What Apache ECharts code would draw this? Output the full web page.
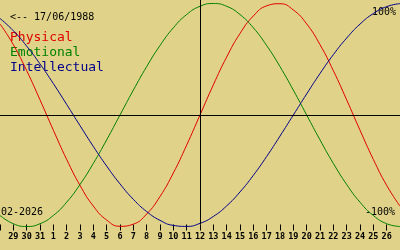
<!DOCTYPE html>
<html>
<head>
<meta charset="utf-8">
<script src="https://cdn.jsdelivr.net/npm/echarts@6/dist/echarts.min.js"></script>
<style>
  html, body { margin: 0; padding: 0; background: #e0d288; }
  #chart { width: 400px; height: 250px; }
</style>
</head>
<body>
<div id="chart"></div>
<script>
// Days shown (Jan 28 .. Feb 27, 2026); outermost ones sit at the plot edges
const days = ['28','29','30','31','1','2','3','4','5','6','7','8','9','10','11','12','13','14','15','16','17','18','19','20','21','22','23','24','25','26','27'];
const todayIndex = 15; // '12'
const physical = [0.817,0.631,0.398,0.136,-0.136,-0.398,-0.631,-0.817,-0.942,-0.998,-0.979,-0.888,-0.731,-0.520,-0.270,0,0.270,0.520,0.731,0.888,0.979,0.998,0.942,0.817,0.631,0.398,0.136,-0.136,-0.398,-0.631,-0.817];
const emotional = [-0.901,-0.975,-1,-0.975,-0.901,-0.782,-0.623,-0.434,-0.223,0,0.223,0.434,0.623,0.782,0.901,0.975,1,0.975,0.901,0.782,0.623,0.434,0.223,0,-0.223,-0.434,-0.623,-0.782,-0.901,-0.975,-1];
const intellectual = [0.866,0.756,0.618,0.458,0.282,0.095,-0.095,-0.282,-0.458,-0.618,-0.756,-0.866,-0.945,-0.990,-0.999,-0.972,-0.910,-0.815,-0.690,-0.541,-0.372,-0.189,0,0.189,0.372,0.541,0.690,0.815,0.910,0.972,0.999];
const birthLabel = '<-- 17/06/1988';
const monthLabel = '02-2026';
const topLabel = '100%';
const bottomLabel = '-100%';

const mono = 'DejaVu Sans Mono';
const RED = '#e00000', GREEN = '#008000', BLUE = '#00008c';

const chart = echarts.init(document.getElementById('chart'), null, {renderer: 'canvas'});
const edgeSkip = (i) => i > 0 && i < days.length - 1;

chart.setOption({
  animation: false,
  backgroundColor: '#e0d288',
  grid: { left: 0, right: 0, top: 0, bottom: 25.5 },
  xAxis: {
    type: 'category',
    data: days,
    boundaryGap: false,
    axisLine: { show: true, onZero: false, lineStyle: { color: 'rgba(0,0,0,0)' } },
    axisTick: { show: true, length: 6, interval: 0, lineStyle: { color: '#000', width: 1 } },
    axisLabel: { interval: edgeSkip, margin: 8, fontFamily: mono, fontSize: 8.5, fontWeight: 'bold', color: '#000' },
    splitLine: { show: false }
  },
  yAxis: {
    type: 'value',
    min: -0.982, max: 1.0314,
    show: false,
    splitLine: { show: false }
  },
  series: [
    { name: 'Physical', type: 'line', data: physical, smooth: true, showSymbol: false, clip: false,
      lineStyle: { color: RED, width: 1 },
      markLine: { silent: true, symbol: 'none', label: { show: false },
        lineStyle: { color: '#000', width: 1, type: 'solid' },
        data: [{ yAxis: 0 }, { xAxis: todayIndex }] } },
    { name: 'Emotional', type: 'line', data: emotional, smooth: true, showSymbol: false, clip: false,
      lineStyle: { color: GREEN, width: 1 } },
    { name: 'Intellectual', type: 'line', data: intellectual, smooth: true, showSymbol: false, clip: false,
      lineStyle: { color: BLUE, width: 1 } }
  ],
  graphic: [
    { type: 'text', left: 10, top: 12, style: { text: birthLabel, font: '10px "DejaVu Sans Mono"', fill: '#000' } },
    { type: 'text', left: 10, top: 31, style: { text: 'Physical', font: '13px "DejaVu Sans Mono"', fill: RED } },
    { type: 'text', left: 10, top: 46, style: { text: 'Emotional', font: '13px "DejaVu Sans Mono"', fill: GREEN } },
    { type: 'text', left: 10, top: 61, style: { text: 'Intellectual', font: '13px "DejaVu Sans Mono"', fill: BLUE } },
    { type: 'text', left: 1, top: 207, style: { text: monthLabel, font: '10px "DejaVu Sans Mono"', fill: '#000' } },
    { type: 'text', right: 4, top: 7, style: { text: topLabel, font: '10px "DejaVu Sans Mono"', fill: '#000' } },
    { type: 'text', right: 5, top: 207, style: { text: bottomLabel, font: '10px "DejaVu Sans Mono"', fill: '#000' } }
  ]
});
</script>
</body>
</html>
